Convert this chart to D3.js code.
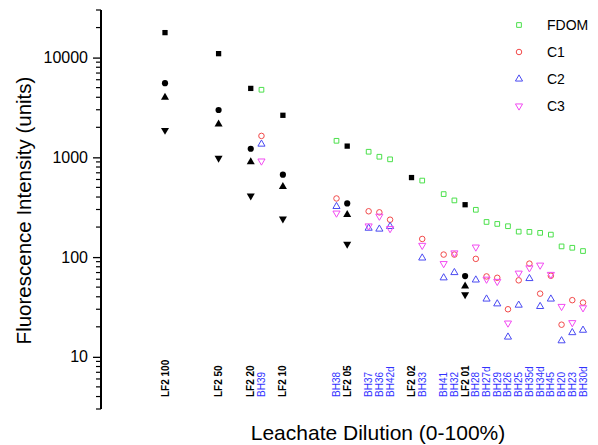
<!DOCTYPE html>
<html>
<head>
<meta charset="utf-8">
<script src="https://cdn.jsdelivr.net/npm/d3@7"></script>
<style>
  body { margin: 0; background: #fff; }
  svg { font-family: "Liberation Sans", Arial, sans-serif; }
</style>
</head>
<body>
<script>
// sample names, in plotting order, and their slot along the dilution axis
const samples = ["LF2 100", "LF2 50", "LF2 20", "BH39", "LF2 10", "BH38", "LF2 05",
  "BH37", "BH36", "BH42d", "LF2 02", "BH33", "BH41", "BH32", "LF2 01", "BH28",
  "BH27d", "BH29", "BH26", "BH25", "BH35d", "BH34d", "BH45", "BH20", "BH23", "BH30d"];
const slots = [0, 5, 8, 9, 11, 16, 17, 19, 20, 21, 23, 24, 26, 27, 28, 29,
  30, 31, 32, 33, 34, 35, 36, 37, 38, 39];

const fdom = [17800, 10950, 4910, 4760, 2640, 1465, 1296, 1138, 1014, 955, 627, 585,
  428, 370, 335, 298, 225, 215, 204, 180, 179, 175, 168, 128, 124, 115];
const c1 = [5540, 2985, 1220, 1640, 671, 387, 345, 288, 281, 237, null, 152,
  106, 106, 64.5, 96, 64, 62, 30, 58.5, 86, 43, 65, 21, 37, 35];
const c2 = [3980, 2150, 898, 1358, 509, 322, 266, 195, 191, 203, null, 98,
  62, 70, 51, 59, 38, 34, 15.8, 33, 61, 32, 38, 14.5, 17.5, 18.5];
const c3 = [1870, 985, 411, 918, 242, 276, 135, 205, 257, 193, null, 131,
  86, 110, 42, 126, 60, 57, 21.8, 69, 78, 83, 67, 32, 22, 31];

const yTicks = [10, 100, 1000, 10000];

const series = [
  { name: "FDOM", values: fdom, symbol: d3.symbolSquare, rot: 0, color: "#4be04b", size: 22 },
  { name: "C1", values: c1, symbol: d3.symbolCircle, rot: 0, color: "#f24a4a", size: 24 },
  { name: "C2", values: c2, symbol: d3.symbolTriangle, rot: 0, color: "#4a4af2", size: 22 },
  { name: "C3", values: c3, symbol: d3.symbolTriangle, rot: 180, color: "#f24af2", size: 22 },
];

const W = 598, H = 445;
const svg = d3.select("body").append("svg").attr("width", W).attr("height", H);

const x = d3.scaleLinear().domain([0, 39]).range([165, 583]);
const y = d3.scaleLog().domain([3, 30000]).range([409, 10]);

const isLF = (name) => name.startsWith("LF2");

// y axis with log minor ticks
const minor = [];
for (let e = 0; e <= 4; e++) {
  for (let m = 2; m <= 9; m++) {
    const v = m * Math.pow(10, e);
    if (v >= 3 && v <= 30000) minor.push(v);
  }
}

const axisG = svg.append("g").attr("transform", "translate(101,0)");
axisG.call(
  d3.axisLeft(y).tickValues(yTicks).tickFormat(d3.format("d")).tickSize(8).tickPadding(5)
);
axisG.selectAll(".tick text").attr("font-size", 16).attr("font-family", "Liberation Sans, Arial, sans-serif");
axisG.selectAll(".tick line").attr("stroke-width", 1.3);
axisG.select(".domain").attr("d", `M0,${y(30000)}V${y(3)}`).attr("stroke-width", 2);
axisG
  .append("g")
  .selectAll("line")
  .data(minor)
  .join("line")
  .attr("x1", -5)
  .attr("x2", 0)
  .attr("y1", (d) => y(d))
  .attr("y2", (d) => y(d))
  .attr("stroke", "#000")
  .attr("stroke-width", 1.2);

// axis titles
svg
  .append("text")
  .attr("transform", `translate(31,${(y(3) + y(30000)) / 2 + 1}) rotate(-90)`)
  .attr("text-anchor", "middle")
  .attr("font-size", 20.5)
  .text("Fluorescence Intensity (units)");

svg
  .append("text")
  .attr("x", 378)
  .attr("y", 440)
  .attr("text-anchor", "middle")
  .attr("font-size", 21)
  .text("Leachate Dilution (0-100%)");

// sample labels
svg
  .append("g")
  .selectAll("text")
  .data(samples)
  .join("text")
  .attr("transform", (d, i) => `translate(${x(slots[i]) + 3.5},397) rotate(-90)`)
  .attr("font-size", 10)
  .attr("font-weight", (d) => (isLF(d) ? "bold" : "normal"))
  .attr("fill", (d) => (isLF(d) ? "#000" : "#3333ff"))
  .text((d) => d);

// markers
const pts = [];
series.forEach((s) => {
  s.values.forEach((v, i) => {
    if (v != null) pts.push({ s, v, i, lf: isLF(samples[i]) });
  });
});

svg
  .append("g")
  .selectAll("path")
  .data(pts)
  .join("path")
  .attr("d", (d) =>
    d3.symbol().type(d.s.symbol).size(d.lf ? d.s.size + 6 : d.s.size)()
  )
  .attr("transform", (d) => `translate(${x(slots[d.i])},${y(d.v)}) rotate(${d.s.rot})`)
  .attr("fill", (d) => (d.lf ? "#000" : "none"))
  .attr("stroke", (d) => (d.lf ? "none" : d.s.color))
  .attr("stroke-width", 1);

// legend
const legend = svg
  .append("g")
  .selectAll("g")
  .data(series)
  .join("g")
  .attr("transform", (d, i) => `translate(519,${25 + i * 27})`);

legend
  .append("path")
  .attr("d", (d) => d3.symbol().type(d.symbol).size(d.size)())
  .attr("transform", (d) => `rotate(${d.rot})`)
  .attr("fill", "none")
  .attr("stroke", (d) => d.color)
  .attr("stroke-width", 1);

legend
  .append("text")
  .attr("x", 28)
  .attr("dy", "0.36em")
  .attr("font-size", 14)
  .text((d) => d.name);
</script>
</body>
</html>
